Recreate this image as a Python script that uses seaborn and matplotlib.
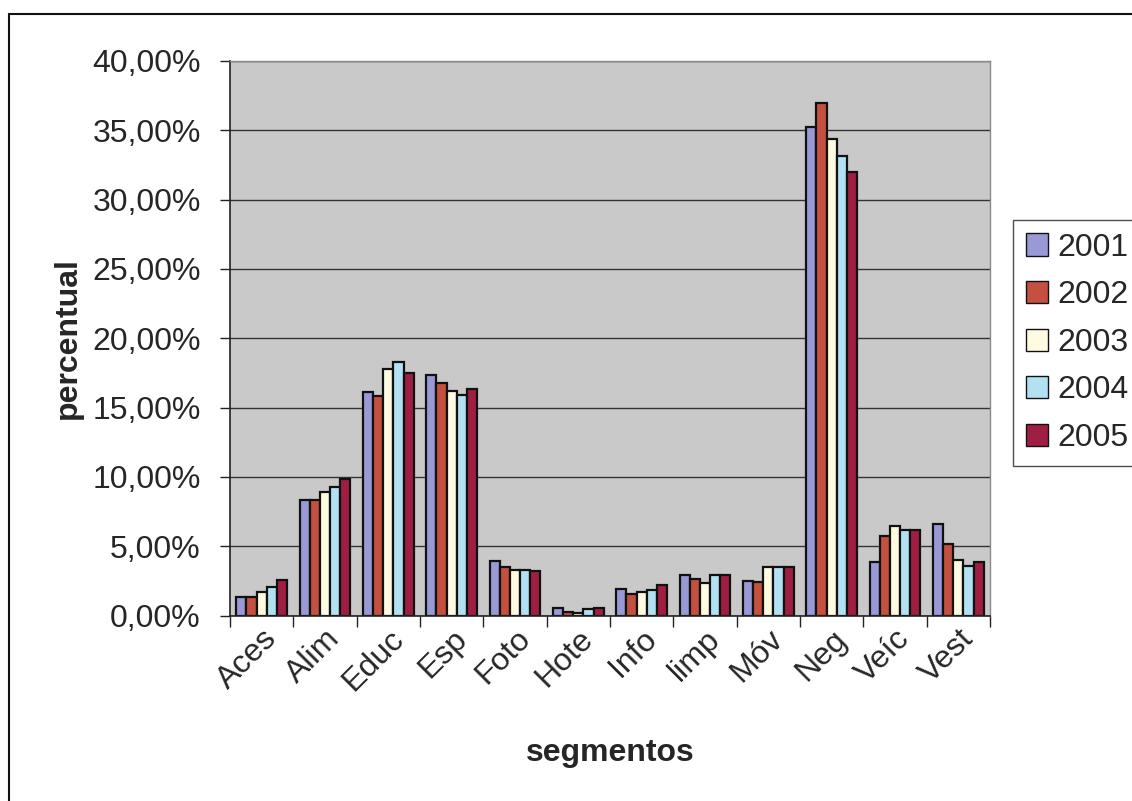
import matplotlib
matplotlib.use("Agg")
import matplotlib.pyplot as plt
import matplotlib.patches as mpatches
from matplotlib.ticker import FuncFormatter, FixedLocator, NullFormatter
import numpy as np
import pandas as pd
import seaborn as sns

# Segments and yearly share (%) per segment
segmentos = ["Aces", "Alim", "Educ", "Esp", "Foto", "Hote", "Info", "limp", "Móv", "Neg", "Veíc", "Vest"]
anos = ["2001", "2002", "2003", "2004", "2005"]

v2001 = [1.34, 8.30, 16.09, 17.35, 3.93, 0.53, 1.89, 2.91, 2.51, 35.24, 3.88, 6.61]
v2002 = [1.34, 8.30, 15.85, 16.80, 3.52, 0.24, 1.58, 2.62, 2.39, 37.00, 5.76, 5.17]
v2003 = [1.67, 8.90, 17.75, 16.20, 3.28, 0.19, 1.70, 2.31, 3.48, 34.39, 6.46, 4.02]
v2004 = [2.08, 9.24, 18.29, 15.88, 3.28, 0.49, 1.87, 2.91, 3.48, 33.15, 6.15, 3.59]
v2005 = [2.54, 9.82, 17.49, 16.33, 3.20, 0.53, 2.18, 2.91, 3.48, 31.98, 6.15, 3.88]

cores = ["#9999d6", "#c4503f", "#fffbe2", "#b3e1f4", "#a01e42"]

serie = {"2001": v2001, "2002": v2002, "2003": v2003, "2004": v2004, "2005": v2005}
df = pd.DataFrame(
    [(s, a, serie[a][i]) for a in anos for i, s in enumerate(segmentos)],
    columns=["segmento", "ano", "valor"],
)

sns.set_theme(style="white")
plt.rcParams["font.family"] = ["Liberation Sans", "DejaVu Sans"]

FS = 23

fig = plt.figure(figsize=(11.32, 8.01), dpi=100)
ax = fig.add_axes([230 / 1132, 1 - 615.5 / 801, 760 / 1132, 554.5 / 801])
ax.set_facecolor("#c9c9c9")

sns.barplot(
    data=df, x="segmento", y="valor", hue="ano", order=segmentos, hue_order=anos,
    palette=cores, width=0.8, edgecolor="#111111", linewidth=1.6, ax=ax,
    saturation=1.0, legend=True,
)

ax.set_ylim(0, 40)
ax.set_xlim(-0.5, len(segmentos) - 0.5)
ax.yaxis.set_major_locator(FixedLocator(np.arange(0, 41, 5)))
ax.yaxis.set_major_formatter(FuncFormatter(lambda v, p: f"{v:.2f}".replace(".", ",") + "%"))
ax.grid(axis="y", color="#333333", linewidth=1.0)
ax.set_axisbelow(True)

# category labels at centers, tick marks between categories
ax.xaxis.set_major_locator(FixedLocator(np.arange(-0.5, len(segmentos), 1.0)))
ax.xaxis.set_major_formatter(NullFormatter())
ax.xaxis.set_minor_locator(FixedLocator(np.arange(len(segmentos))))
ax.set_xticklabels(segmentos, minor=True)
ax.tick_params(axis="x", which="major", direction="out", length=8, width=1, color="#222222", bottom=True)
ax.tick_params(axis="x", which="minor", length=0, labelsize=FS, pad=6)
ax.tick_params(axis="y", direction="out", length=7, width=1, color="#222222", left=True, labelsize=FS, pad=14)
for lab in ax.get_xticklabels(minor=True):
    lab.set_rotation(45)
    lab.set_ha("right")
    lab.set_rotation_mode("anchor")

for side in ["left", "bottom"]:
    ax.spines[side].set_color("#222222")
    ax.spines[side].set_linewidth(1.2)
for side in ["top", "right"]:
    ax.spines[side].set_color("#8a8a8a")
    ax.spines[side].set_linewidth(1.0)

ax.set_xlabel("segmentos", fontsize=FS, fontweight="bold", labelpad=30)
ax.set_ylabel("percentual", fontsize=FS, fontweight="bold", labelpad=7)

leg = ax.legend(
    loc="upper left", bbox_to_anchor=(1013 / 1132, 1 - 220 / 801),
    bbox_transform=fig.transFigure, fontsize=FS, frameon=True, fancybox=False,
    handlelength=0.7, handleheight=0.7, handletextpad=0.3, labelspacing=0.55,
    borderpad=0.4, borderaxespad=0,
)
leg.get_frame().set_edgecolor("#222222")
leg.get_frame().set_linewidth(1.0)
leg.get_frame().set_facecolor("white")
for h in leg.legend_handles:
    h.set_edgecolor("#111111")
    h.set_linewidth(1.0)

# outer chart frame
fig.patches.append(mpatches.Rectangle(
    (9 / 1132, -0.05), 1.1, 1 - 14 / 801 + 0.05, transform=fig.transFigure,
    fill=False, edgecolor="#111111", linewidth=1.5, zorder=0,
))

fig.savefig("out.png", dpi=100)
